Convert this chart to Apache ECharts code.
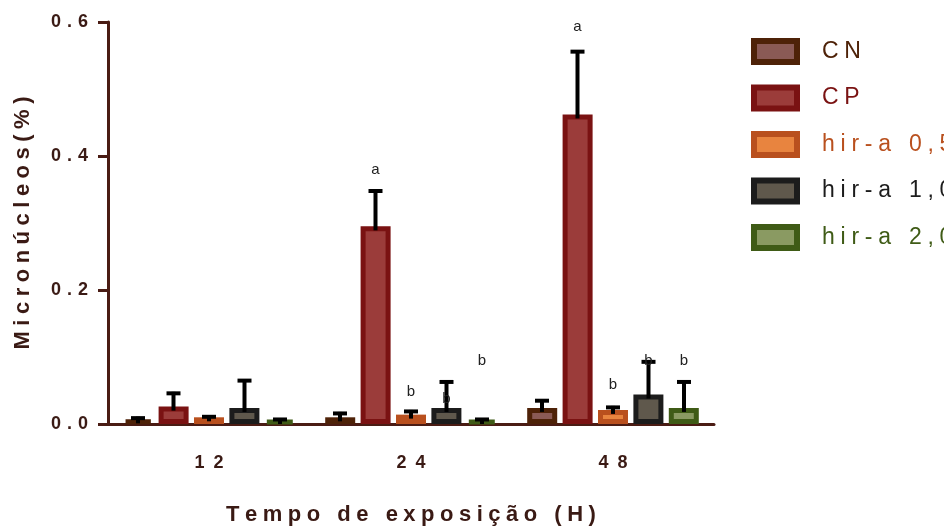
<!DOCTYPE html>
<html><head><meta charset="utf-8">
<script src="https://cdn.jsdelivr.net/npm/echarts@6/dist/echarts.min.js"></script>
<style>html,body{margin:0;padding:0;background:#fff;overflow:hidden}#c{width:944px;height:526px}</style>
</head><body><div id="c"></div>
<script>
const categories = ['12', '24', '48'];
const seriesNames = ['CN', 'CP', 'hir-a 0,5', 'hir-a 1,0', 'hir-a 2,0'];
const cnMean = [0.007, 0.010, 0.024];
const cnErr = [0.004, 0.008, 0.013];
const cpMean = [0.026, 0.295, 0.462];
const cpErr = [0.022, 0.055, 0.096];
const h05Mean = [0.010, 0.014, 0.021];
const h05Err = [0.003, 0.007, 0.006];
const h10Mean = [0.024, 0.024, 0.044];
const h10Err = [0.043, 0.041, 0.051];
const h20Mean = [0.006, 0.006, 0.024];
const h20Err = [0.003, 0.003, 0.041];
const cnLetters = ['', '', ''];
const cpLetters = ['', 'a', 'a'];
const h05Letters = ['', 'b', 'b'];
const h10Letters = ['', 'b', 'b'];
const h20Letters = ['', 'b', 'b'];
const cnLetterY = [null, null, null];
const cpLetterY = [null, 0.38, 0.593];
const h05LetterY = [null, 0.048, 0.058];
const h10LetterY = [null, 0.037, 0.094];
const h20LetterY = [null, 0.094, 0.094];
const yTicks = [0, 0.2, 0.4, 0.6];

const means = [cnMean, cpMean, h05Mean, h10Mean, h20Mean];
const errs = [cnErr, cpErr, h05Err, h10Err, h20Err];
const letters = [cnLetters, cpLetters, h05Letters, h10Letters, h20Letters];
const letterYs = [cnLetterY, cpLetterY, h05LetterY, h10LetterY, h20LetterY];

const borderColors = ['#4e2208', '#7a1212', '#b9501e', '#1c1c1c', '#3f5b16'];
const fillColors = ['#8a5a55', '#9b3c3a', '#e8843f', '#5f584c', '#8a9a62'];
const textColors = ['#4e2208', '#7a1212', '#b9501e', '#1c1c1c', '#3f5b16'];
const AX = '#4a1c14';
const TXT = '#3a1a14';
const FONT = '"Liberation Sans", Arial, sans-serif';
const sp = (s, ch) => s.split('').join(ch || '\u2005');

const BW = 30, STEP = 35.5;

const series = [];
seriesNames.forEach((n, i) => {
  series.push({
    name: n, type: 'bar', data: means[i], barWidth: BW, barGap: '18%',
    itemStyle: { color: fillColors[i], borderColor: borderColors[i], borderWidth: 5 },
    z: 2
  });
});
seriesNames.forEach((n, i) => {
  series.push({
    type: 'custom', name: n + '_err', z: 5, silent: true,
    data: categories.map((c, k) => [k, means[i][k], errs[i][k], k]),
    encode: { x: 0, y: [1, 2] },
    renderItem: (params, api) => {
      const k = api.value(0);
      const m = api.value(1), e = api.value(2);
      const off = (i - 2) * STEP;
      const base = api.coord([k, m]);
      const top = api.coord([k, m + e]);
      const x = base[0] + off;
      const children = [
        { type: 'line', shape: { x1: x, y1: base[1] + 4, x2: x, y2: top[1] }, style: { stroke: '#000', lineWidth: 4 } },
        { type: 'line', shape: { x1: x - 7, y1: top[1] + 1.5, x2: x + 7, y2: top[1] + 1.5 }, style: { stroke: '#000', lineWidth: 4 } }
      ];
      const kk = api.value(3);
      const lt = letters[i][kk];
      if (lt) {
        const ly = api.coord([k, letterYs[i][kk]]);
        children.push({ type: 'text', x: x, y: ly[1], style: { text: lt, fill: '#222', font: '15px ' + FONT, align: 'center', verticalAlign: 'middle' } });
      }
      return { type: 'group', children };
    }
  });
});

const chart = echarts.init(document.getElementById('c'), null, { renderer: 'canvas' });
chart.setOption({
  animation: false,
  backgroundColor: '#fff',
  grid: { left: 108, right: 230, top: 22, bottom: 102, containLabel: false, outerBoundsMode: 'none' },
  legend: {
    orient: 'vertical', left: 746, top: 33, icon: 'rect',
    itemWidth: 43, itemHeight: 21, itemGap: 19.5,
    itemStyle: { borderWidth: 6 },
    data: seriesNames.map((n, i) => ({ name: n, textStyle: { color: textColors[i] } })),
    formatter: n => sp(n),
    textStyle: { fontSize: 23, fontFamily: FONT, padding: [0, 0, 0, 20] }
  },
  xAxis: {
    type: 'category', data: categories,
    axisLine: { lineStyle: { color: AX, width: 3 } },
    axisTick: { alignWithLabel: true, length: 10, lineStyle: { color: AX, width: 3 } },
    axisLabel: { color: TXT, fontSize: 18, fontWeight: 'bold', fontFamily: FONT, margin: 30, formatter: v => sp(v, '\u2002') },
    name: sp('Tempo de exposição (H)'), nameLocation: 'middle', nameGap: 80,
    nameTextStyle: { color: TXT, fontSize: 22, fontWeight: 'bold', fontFamily: FONT }
  },
  yAxis: {
    type: 'value', min: 0, max: 0.6, interval: 0.2,
    splitLine: { show: false },
    axisLine: { show: true, lineStyle: { color: AX, width: 3 } },
    axisTick: { show: true, length: 10, lineStyle: { color: AX, width: 3 } },
    axisLabel: { color: TXT, fontSize: 18, fontWeight: 'bold', fontFamily: FONT, margin: 20,
      formatter: v => sp(yTicks.reduce((a, t) => Math.abs(t - v) < 1e-9 ? t.toFixed(1) : a, v.toFixed(1)), '\u2004') },
    name: sp('Micronúcleos(%)'), nameLocation: 'middle', nameGap: 74,
    nameTextStyle: { color: TXT, fontSize: 22, fontWeight: 'bold', fontFamily: FONT }
  },
  series
});
</script></body></html>
